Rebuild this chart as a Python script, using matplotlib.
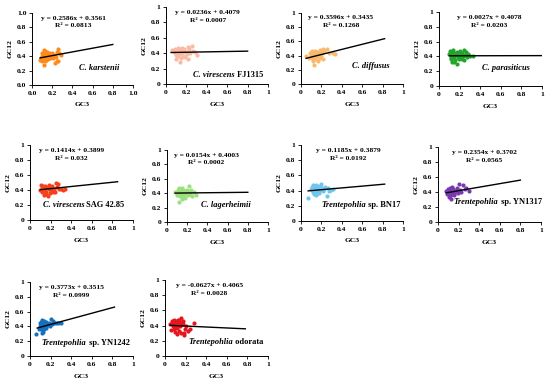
import numpy as np
import matplotlib
matplotlib.use('Agg')
import matplotlib.pyplot as plt

plt.rcParams['font.family'] = ['Liberation Serif', 'DejaVu Serif']
plt.rcParams['font.weight'] = 'bold'

# species, slope, intercept, r2
names = ['C. karstenii', 'C. virescens|FJ1315', 'C. diffusus', 'C. parasiticus',
         'C. virescens|SAG 42.85', 'C. lagerheimii', 'Trentepohlia|sp. BN17',
         'Trentepohlia|sp. YN1317', 'Trentepohlia|sp. YN1242', 'Trentepohlia|odorata']
slopes = [0.2586, 0.0236, 0.3596, 0.0027, 0.1414, 0.0154, 0.1185, 0.2354, 0.3773, -0.0627]
intercepts = [0.3561, 0.4079, 0.3435, 0.4078, 0.3899, 0.4003, 0.3879, 0.3702, 0.3515, 0.4065]
r2 = ['0.0813', '0.0007', '0.1268', '0.0203', '0.032', '0.0002', '0.0192', '0.0565', '0.0999', '0.0028']
colors = ['#FF8A1C', '#F9B9A2', '#F9BA6E', '#22A52A', '#F5401E', '#9BE07E',
          '#6FC6EC', '#7A3AAE', '#1570BE', '#E5161E']
line_x = [(0.08, 0.8), (0.05, 0.8), (0.05, 0.82), (0.1, 1.0), (0.1, 0.85),
          (0.08, 0.8), (0.07, 0.82), (0.08, 0.8), (0.07, 0.82), (0.05, 0.78)]

# GC3 / GC12 points
gc3 = [
    [0.08,0.09,0.10,0.10,0.11,0.11,0.12,0.12,0.12,0.13,0.13,0.13,0.14,0.14,0.14,0.15,0.15,0.15,0.16,0.16,
     0.17,0.17,0.18,0.18,0.19,0.20,0.21,0.22,0.23,0.24,0.25,0.25,0.26,0.26,0.27,0.29,0.12,0.21,0.10,0.14],
    [0.06,0.08,0.09,0.10,0.11,0.12,0.12,0.13,0.13,0.14,0.14,0.15,0.15,0.16,0.17,0.17,0.18,0.19,0.20,0.21,
     0.22,0.22,0.23,0.24,0.25,0.26,0.28,0.30,0.10,0.16],
    [0.05,0.08,0.09,0.10,0.11,0.12,0.12,0.13,0.13,0.14,0.14,0.15,0.15,0.16,0.16,0.17,0.18,0.19,0.20,0.21,
     0.22,0.22,0.23,0.25,0.27,0.31,0.33,0.11,0.17,0.19],
    [0.10,0.11,0.12,0.12,0.13,0.13,0.14,0.14,0.15,0.15,0.16,0.16,0.17,0.17,0.18,0.18,0.19,0.20,0.20,0.21,
     0.22,0.23,0.24,0.24,0.25,0.26,0.27,0.28,0.30,0.33,0.15,0.19,0.12,0.22],
    [0.10,0.11,0.12,0.12,0.13,0.14,0.14,0.15,0.15,0.16,0.17,0.17,0.18,0.18,0.19,0.20,0.20,0.21,0.22,0.23,
     0.24,0.25,0.26,0.27,0.28,0.30,0.32,0.34,0.16,0.19,0.13,0.22],
    [0.08,0.10,0.11,0.12,0.12,0.13,0.13,0.14,0.14,0.15,0.15,0.16,0.16,0.17,0.18,0.18,0.19,0.20,0.21,0.22,
     0.22,0.23,0.24,0.25,0.27,0.29,0.15,0.20,0.12],
    [0.07,0.10,0.11,0.12,0.12,0.13,0.13,0.14,0.14,0.15,0.15,0.16,0.16,0.17,0.18,0.18,0.19,0.20,0.21,0.22,
     0.23,0.24,0.25,0.26,0.27,0.29,0.31,0.15,0.19,0.12],
    [0.08,0.09,0.10,0.10,0.11,0.12,0.12,0.13,0.13,0.14,0.14,0.15,0.15,0.16,0.16,0.17,0.18,0.19,0.20,0.21,
     0.22,0.24,0.26,0.27,0.30,0.11,0.14,0.17,0.12,0.16],
    [0.06,0.09,0.10,0.10,0.11,0.11,0.12,0.12,0.12,0.12,0.13,0.13,0.13,0.14,0.14,0.14,0.15,0.15,0.16,0.17,
     0.18,0.19,0.20,0.21,0.22,0.23,0.25,0.27,0.30,0.11,0.13,0.12,0.16,0.14],
    [0.05,0.06,0.07,0.08,0.08,0.09,0.09,0.10,0.10,0.11,0.11,0.12,0.12,0.13,0.13,0.14,0.14,0.15,0.15,0.16,
     0.16,0.17,0.17,0.18,0.19,0.20,0.22,0.24,0.28,0.10,0.13,0.07,0.15,0.18],
]
gc12 = [
    [0.35,0.37,0.40,0.34,0.42,0.38,0.44,0.36,0.28,0.47,0.40,0.33,0.45,0.41,0.37,0.43,0.39,0.46,0.42,0.36,
     0.44,0.40,0.38,0.43,0.41,0.44,0.40,0.42,0.31,0.39,0.46,0.34,0.50,0.33,0.44,0.41,0.48,0.37,0.45,0.35],
    [0.44,0.41,0.46,0.38,0.43,0.47,0.36,0.42,0.39,0.45,0.28,0.40,0.34,0.44,0.37,0.41,0.46,0.35,0.42,0.39,
     0.48,0.33,0.45,0.40,0.49,0.43,0.42,0.38,0.32,0.47],
    [0.39,0.36,0.43,0.40,0.46,0.33,0.41,0.27,0.44,0.38,0.47,0.35,0.42,0.45,0.39,0.41,0.44,0.37,0.40,0.43,
     0.50,0.35,0.46,0.50,0.44,0.44,0.42,0.37,0.32,0.48],
    [0.43,0.47,0.40,0.36,0.44,0.33,0.41,0.48,0.38,0.45,0.35,0.42,0.30,0.46,0.39,0.43,0.36,0.41,0.47,0.38,
     0.44,0.40,0.49,0.35,0.42,0.46,0.39,0.43,0.40,0.41,0.32,0.44,0.38,0.37],
    [0.40,0.47,0.43,0.37,0.45,0.39,0.34,0.42,0.46,0.38,0.44,0.32,0.41,0.47,0.36,0.43,0.39,0.45,0.40,0.42,
     0.37,0.50,0.44,0.48,0.41,0.42,0.40,0.41,0.35,0.44,0.42,0.38],
    [0.42,0.38,0.44,0.28,0.40,0.46,0.36,0.42,0.39,0.47,0.35,0.41,0.44,0.38,0.43,0.33,0.40,0.45,0.37,0.50,
     0.42,0.39,0.44,0.36,0.41,0.38,0.32,0.43,0.47],
    [0.30,0.42,0.45,0.38,0.47,0.41,0.35,0.44,0.39,0.48,0.36,0.42,0.46,0.40,0.44,0.37,0.41,0.49,0.43,0.39,
     0.42,0.45,0.33,0.43,0.40,0.41,0.42,0.34,0.46,0.40],
    [0.41,0.37,0.44,0.39,0.42,0.46,0.35,0.43,0.31,0.40,0.47,0.38,0.44,0.41,0.36,0.42,0.45,0.39,0.51,0.43,
     0.40,0.49,0.44,0.46,0.41,0.33,0.38,0.42,0.40,0.37],
    [0.30,0.36,0.40,0.44,0.38,0.46,0.48,0.35,0.42,0.31,0.45,0.39,0.33,0.43,0.37,0.41,0.44,0.40,0.46,0.42,
     0.45,0.40,0.50,0.43,0.47,0.44,0.45,0.45,0.44,0.41,0.36,0.43,0.38,0.47],
    [0.42,0.34,0.46,0.39,0.44,0.35,0.48,0.31,0.43,0.40,0.46,0.29,0.37,0.44,0.41,0.48,0.33,0.45,0.39,0.50,
     0.30,0.42,0.46,0.27,0.36,0.40,0.33,0.35,0.44,0.38,0.47,0.43,0.41,0.30],
]

# label positions in axes fraction (equation x, species x, species y)
eq_x = [0.41, 0.41, 0.39, 0.49, 0.40, 0.39, 0.46, 0.45, 0.40, 0.43]
sp_x = [0.67, 0.61, 0.68, 0.65, 0.52, 0.58, 0.59, 0.58, 0.54, 0.59]
sp_y = [0.24, 0.12, 0.25, 0.25, 0.20, 0.23, 0.21, 0.26, 0.18, 0.18]

# axes boxes in pixels: left, right, top, bottom
boxes = [(32, 133, 13, 85), (166, 268, 7, 84), (301, 403, 13, 84), (439, 542, 12, 86),
         (30, 133, 145, 220), (167, 268, 150, 222), (301, 403, 145, 221), (438, 541, 147, 222),
         (30, 133, 282, 356), (165, 268, 280, 356)]

W, H = 550, 384
fig = plt.figure(figsize=(W / 100, H / 100), dpi=100)
FS_EQ = 5.4
FS_SP = 6.0

for i in range(10):
    l, r, t, b = boxes[i]
    ax = fig.add_axes([l / W, 1 - b / H, (r - l) / W, (b - t) / H])
    ax.scatter(gc3[i], gc12[i], s=9, color=colors[i], linewidths=0, zorder=2)
    xs = np.array(line_x[i])
    ax.plot(xs, slopes[i] * xs + intercepts[i], color='black', lw=1.0, zorder=3)
    ax.set_xlim(0, 1)
    ax.set_ylim(0, 1)
    ticks = [0, 0.2, 0.4, 0.6, 0.8, 1.0]
    ax.set_xticks(ticks)
    ax.set_yticks(ticks)
    if i == 0:
        lab = ['0.0', '0.2', '0.4', '0.6', '0.8', '1.0']
    else:
        lab = ['0', '0.2', '0.4', '0.6', '0.8', '1']
    ax.set_xticklabels(lab)
    ax.set_yticklabels(lab)
    ax.tick_params(labelsize=5.4, length=2, width=0.6, pad=2)
    for s in ['top', 'right']:
        ax.spines[s].set_visible(False)
    for s in ['left', 'bottom']:
        ax.spines[s].set_linewidth(0.7)
    ax.set_xlabel('GC3', fontsize=5.4, fontweight='bold', labelpad=5)
    ax.set_ylabel('GC12', fontsize=5.4, fontweight='bold', labelpad=3)

    eq = 'y = %.4fx + %.4f' % (slopes[i], intercepts[i])
    ax.text(eq_x[i], 0.93, eq, transform=ax.transAxes, ha='center', va='center',
            fontsize=FS_EQ, fontweight='bold')
    ax.text(eq_x[i], 0.82, 'R\u00b2 = ' + r2[i], transform=ax.transAxes, ha='center',
            va='center', fontsize=FS_EQ, fontweight='bold')

    parts = names[i].split('|')
    if len(parts) == 1:
        ax.text(sp_x[i], sp_y[i], parts[0], transform=ax.transAxes, ha='center', va='center',
                fontsize=FS_SP, fontweight='bold', style='italic')
    else:
        # italic genus followed by upright strain name, centred as one label
        t1 = ax.text(0, 0, parts[0], fontsize=FS_SP, fontweight='bold', style='italic')
        t2 = ax.text(0, 0, ' ' + parts[1], fontsize=FS_SP, fontweight='bold')
        fig.canvas.draw()
        total = t1.get_window_extent().width + t2.get_window_extent().width
        t1.remove()
        t2.remove()
        cx, cy = ax.transAxes.transform((sp_x[i], sp_y[i]))
        ta = ax.text(cx - total / 2, cy, parts[0], transform=None, ha='left', va='center',
                     fontsize=FS_SP, fontweight='bold', style='italic')
        ax.annotate(' ' + parts[1], xy=(1, 0.5), xycoords=ta, ha='left', va='center',
                    fontsize=FS_SP, fontweight='bold')

fig.savefig('out.png', dpi=100)
